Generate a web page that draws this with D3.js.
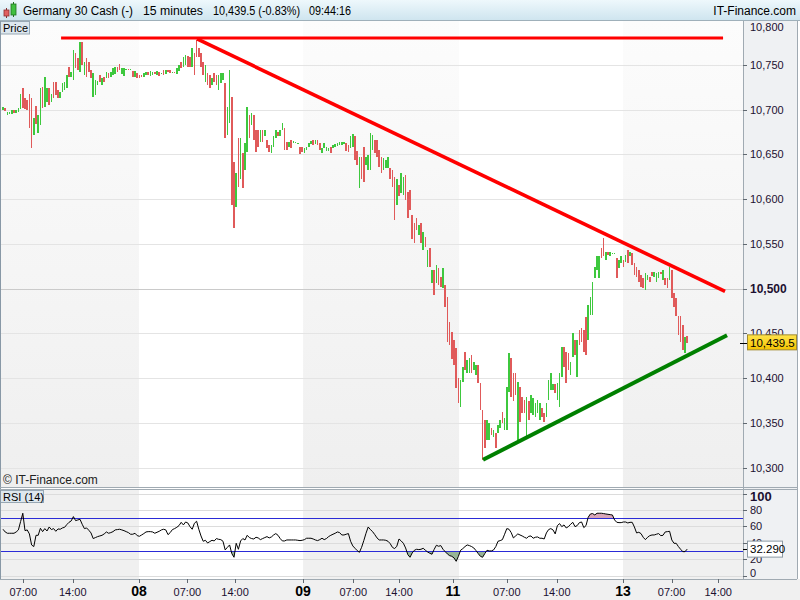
<!DOCTYPE html>
<html><head><meta charset="utf-8">
<script src="https://cdn.jsdelivr.net/npm/d3@7"></script>
<style>
body{margin:0;background:#fff}
svg{display:block}
text{font-family:"Liberation Sans",Arial,sans-serif}
</style>
</head><body><svg id="c" width="800" height="600"></svg>
<script>
// ---------- DATA ----------
const title = "Germany 30 Cash (-)";
const period = "15 minutes";
const lastQuote = "10,439.5 (-0.83%)";
const clock = "09:44:16";
const brand = "IT-Finance.com";

const opens = [
10700,10702,10694,10695,10695,10700,10696,10697,10701,10724,
10713,10711,10718,10713,10672,10704,10674,10683,10725,10703,
10709,10724,10708,10731,10731,10722,10713,10720,10722,10724,
10748,10737,10733,10763,10758,10742,10776,10739,10758,10753,
10744,10714,10716,10728,10739,10728,10737,10735,10741,10737,
10739,10740,10748,10751,10740,10738,10744,10745,10744,10743,
10737,10741,10739,10739,10737,10739,10742,10738,10739,10742,
10739,10742,10740,10744,10740,10744,10744,10741,10742,10740,
10743,10753,10748,10750,10760,10759,10748,10763,10778,10769,
10763,10753,10731,10741,10739,10728,10741,10739,10722,10730,
10733,10730,10672,10685,10714,10642,10591,10668,10622,10652,
10633,10653,10694,10683,10694,10677,10677,10664,10677,10670,
10666,10661,10652,10658,10668,10675,10670,10677,10680,10664,
10658,10666,10663,10664,10662,10658,10658,10652,10655,10658,
10662,10666,10662,10666,10663,10652,10657,10654,10654,10658,
10657,10658,10659,10661,10661,10662,10663,10661,10657,10658,
10670,10654,10613,10647,10658,10638,10633,10633,10655,10666,
10666,10655,10647,10633,10635,10635,10635,10633,10625,10594,
10616,10607,10605,10627,10608,10610,10582,10573,10579,10560,
10573,10543,10558,10524,10546,10506,10521,10506,10523,10513,
10501,10504,10491,10463,10452,10443,10434,10400,10368,10396,
10429,10406,10406,10426,10409,10404,10415,10395,10365,10353,
10331,10331,10344,10334,10339,10339,10344,10362,10342,10342,
10385,10423,10406,10406,10331,10390,10379,10376,10334,10374,
10361,10359,10357,10361,10353,10367,10361,10357,10376,10387,
10387,10393,10376,10368,10401,10435,10429,10428,10404,10424,
10443,10401,10454,10456,10454,10468,10443,10471,10471,10512,
10521,10512,10546,10557,10532,10541,10536,10540,10539,10534,
10523,10529,10532,10530,10543,10536,10540,10529,10524,10521,
10515,10512,10499,10510,10513,10519,10513,10507,10512,10519,
10510,10512,10512,10510,10521,10495,10490,10469,10469,10460,
10428,10447];

const closes = [
10703,10699,10697,10697,10700,10696,10700,10702,10718,10702,
10701,10700,10680,10657,10691,10684,10694,10724,10702,10737,
10724,10705,10718,10713,10716,10713,10720,10730,10731,10739,
10737,10742,10767,10747,10744,10775,10750,10753,10737,10742,
10735,10741,10733,10732,10731,10735,10731,10742,10735,10742,
10747,10748,10742,10744,10747,10747,10745,10744,10745,10737,
10743,10735,10735,10736,10741,10742,10739,10743,10742,10740,
10743,10738,10741,10739,10744,10742,10741,10742,10741,10746,
10750,10747,10759,10761,10748,10748,10769,10739,10759,10759,
10748,10739,10750,10728,10724,10735,10731,10728,10739,10741,
10741,10668,10703,10744,10594,10568,10629,10614,10668,10613,
10663,10703,10668,10696,10666,10653,10658,10677,10664,10677,
10657,10653,10661,10670,10677,10670,10677,10685,10655,10655,
10664,10657,10665,10664,10663,10651,10653,10657,10658,10663,
10665,10661,10666,10661,10655,10657,10663,10658,10657,10652,
10661,10662,10663,10664,10664,10664,10654,10653,10670,10673,
10644,10638,10647,10622,10619,10647,10649,10674,10672,10652,
10647,10636,10629,10646,10644,10647,10622,10614,10577,10622,
10603,10629,10625,10599,10579,10588,10555,10551,10566,10571,
10551,10563,10547,10543,10524,10521,10493,10527,10504,10502,
10523,10479,10440,10437,10421,10415,10389,10372,10398,10412,
10409,10420,10423,10406,10418,10415,10395,10365,10309,10322,
10353,10350,10337,10342,10322,10348,10353,10350,10356,10390,
10428,10379,10374,10381,10396,10351,10361,10361,10379,10353,
10381,10378,10372,10376,10372,10357,10351,10372,10398,10406,
10393,10384,10395,10406,10435,10413,10395,10409,10418,10451,
10426,10443,10437,10440,10429,10426,10482,10491,10508,10524,
10536,10536,10534,10536,10541,10538,10541,10540,10540,10512,
10532,10536,10524,10538,10529,10541,10527,10515,10513,10508,
10502,10501,10518,10515,10508,10514,10519,10518,10519,10516,
10521,10504,10501,10524,10490,10480,10469,10448,10440,10432,
10446,10439.5];

const rsiValues = [
56.6,53.3,51.7,51.7,51.7,51.7,53.3,55.8,66.0,76.2,
54.9,55.8,50.9,37.4,35.4,49.2,49.2,57.8,53.7,57.4,
54.5,59.4,56.2,57.4,54.1,57.0,56.6,58.2,59.0,62.3,
65.1,66.8,72.1,67.2,68.0,68.8,62.7,57.4,58.2,55.4,
52.1,45.2,46.4,47.6,48.4,49.2,50.9,53.3,51.7,52.5,
53.7,55.8,56.2,56.6,55.8,54.9,53.7,52.5,50.5,50.5,
51.7,48.8,48.0,49.6,51.3,53.3,53.7,53.7,53.3,51.7,
52.9,54.1,55.8,56.6,55.8,50.0,52.5,56.2,57.4,59.0,
61.1,65.1,61.9,65.5,64.3,59.8,56.6,63.9,66.4,56.6,
48.4,41.9,43.1,39.8,41.5,43.1,42.3,45.2,44.3,43.9,
41.9,31.3,34.5,37.4,26.8,22.3,39.4,32.1,42.3,45.2,
43.5,49.2,46.4,45.2,44.7,46.8,46.0,43.9,45.2,46.4,
47.6,46.0,47.2,49.6,51.3,49.2,45.2,42.3,42.3,43.5,
43.5,43.5,43.5,43.5,43.1,42.7,43.1,43.9,45.6,45.6,
45.6,44.7,43.5,42.7,43.9,45.6,43.9,45.2,47.6,49.2,
50.5,51.7,53.3,52.5,49.6,49.6,50.5,51.3,41.9,36.2,
33.3,30.5,28.4,34.5,42.7,51.7,59.4,56.2,53.7,50.0,
46.0,43.5,43.5,43.5,43.1,41.9,39.0,34.5,32.9,35.8,
44.7,42.3,39.4,33.7,25.6,22.3,27.6,30.9,32.1,31.7,
32.1,33.3,30.9,28.8,27.2,26.0,32.1,37.0,35.8,36.6,
32.1,29.2,26.4,24.3,23.5,21.5,17.4,23.5,30.9,32.9,
35.4,37.4,36.6,35.4,33.7,30.5,26.8,23.5,22.3,26.8,
30.9,30.1,30.1,31.3,35.4,41.9,42.7,43.9,50.5,57.4,
56.6,52.5,46.0,48.4,50.9,49.6,48.4,46.8,45.6,48.0,
48.4,45.6,46.8,47.2,45.6,45.6,44.7,52.1,56.2,57.4,
55.8,50.9,61.1,63.5,59.8,61.9,58.2,59.8,62.7,65.1,
59.8,61.1,64.7,65.5,58.6,61.1,71.3,75.3,75.8,74.1,
76.2,76.2,76.2,75.8,75.3,74.9,74.5,74.1,68.0,65.1,
64.7,64.7,65.5,65.5,64.3,65.1,65.1,59.4,52.1,52.9,
51.3,46.8,43.9,46.8,48.8,49.6,49.6,50.5,51.3,48.8,
49.2,53.3,53.7,54.1,43.5,39.4,39.4,35.4,32.1,29.2,
29.2,32.29];

const priceTicks = [10300,10350,10400,10450,10500,10550,10600,10650,10700,10750,10800];
const rsiTicks = [0,20,40,60,80,100];
const rsiLevels = [30,70];
const lastPrice = 10439.5;
const lastRsi = 32.29;

// time axis (positions in bar units)
const timeLabels = ["07:00","14:00","07:00","14:00","07:00","14:00","07:00","14:00","07:00","14:00"];
const timePos    = [9.2,31.7,83.8,105.5,159.2,180,229,251.7,303.9,325.1];
const dayLabels  = ["08","09","11","13"];
const dayPos     = [61.8,136.4,204.5,281.8];
// shaded sessions (bar units)
const shadedFrom = [-2,136.4,281.8];
const shadedTo   = [61.8,207.3,340];

// trend lines: [bar1, price1, bar2, price2]
const resistanceFlat = [26.4,10780,327.3,10780];
const resistanceDown = [88.2,10779,328.2,10497];
const supportUp      = [218.2,10309,329.1,10448];

// ---------- CHART ----------
const svg = d3.select("#c");
const W = 800, H = 600;
const plotL = 0, plotR = 743, mainT = 21, mainB = 487, rsiT = 489, rsiB = 579;

const x = d3.scaleLinear().domain([0,336]).range([3,742.2]);
const y = d3.scaleLinear().domain([10278.5,10799]).range([mainB,mainT]);
const ry = d3.scaleLinear().domain([0,100]).range([575.5,493.8]);

const defs = svg.append("defs");
const hg = defs.append("linearGradient").attr("id","hdr").attr("x1",0).attr("y1",0).attr("x2",0).attr("y2",1);
hg.append("stop").attr("offset","0%").attr("stop-color","#eef8fc");
hg.append("stop").attr("offset","100%").attr("stop-color","#cfe5ef");
const sg = defs.append("linearGradient").attr("id","shade").attr("x1",0).attr("y1",0).attr("x2",0).attr("y2",1);
sg.append("stop").attr("offset","0%").attr("stop-color","#fcfcfc");
sg.append("stop").attr("offset","100%").attr("stop-color","#efefef");
const yg = defs.append("linearGradient").attr("id","ybox").attr("x1",0).attr("y1",0).attr("x2",0).attr("y2",1);
yg.append("stop").attr("offset","0%").attr("stop-color","#ffe34a");
yg.append("stop").attr("offset","100%").attr("stop-color","#f5c400");
defs.append("clipPath").attr("id","mainClip").append("rect")
  .attr("x",plotL+1).attr("y",mainT).attr("width",plotR-plotL-1).attr("height",mainB-mainT);
defs.append("clipPath").attr("id","rsiClip").append("rect")
  .attr("x",plotL+1).attr("y",rsiT).attr("width",plotR-plotL-1).attr("height",rsiB-rsiT);
defs.append("clipPath").attr("id","above70").append("rect")
  .attr("x",0).attr("y",rsiT).attr("width",plotR).attr("height",ry(70)-rsiT);
defs.append("clipPath").attr("id","below30").append("rect")
  .attr("x",0).attr("y",ry(30)).attr("width",plotR).attr("height",rsiB-ry(30));

// backgrounds
svg.append("rect").attr("width",W).attr("height",H).attr("fill","#ffffff");
svg.append("rect").attr("x",0).attr("y",rsiB).attr("width",W).attr("height",H-rsiB).attr("fill","#f0f0f0");
svg.append("rect").attr("x",plotR).attr("y",mainT).attr("width",797-plotR).attr("height",rsiB-mainT).attr("fill","#eff1f3");

// header
svg.append("rect").attr("x",0).attr("y",0).attr("width",W).attr("height",20).attr("fill","url(#hdr)");
svg.append("line").attr("x1",0).attr("x2",W).attr("y1",20.5).attr("y2",20.5).attr("stroke","#9fb0ba");
// icon
const icon = svg.append("g");
icon.append("line").attr("x1",6.5).attr("x2",6.5).attr("y1",8).attr("y2",18).attr("stroke","#803030");
icon.append("rect").attr("x",4).attr("y",10).attr("width",5).attr("height",6).attr("fill","#e06060").attr("stroke","#903030").attr("stroke-width",0.8);
icon.append("line").attr("x1",13.5).attr("x2",13.5).attr("y1",2).attr("y2",17).attr("stroke","#207020");
icon.append("rect").attr("x",11).attr("y",4).attr("width",5).attr("height",11).attr("fill","#40c040").attr("stroke","#207020").attr("stroke-width",0.8);
// [text, x, width]
const htxt = [[title,23,110],[period,143,60],[lastQuote,213,87],[clock,309,42]];
svg.selectAll("text.h").data(htxt).enter().append("text").attr("class","h")
  .attr("x",d=>d[1]).attr("y",15).attr("font-size",12).attr("fill","#000")
  .attr("textLength",d=>d[2]).attr("lengthAdjust","spacingAndGlyphs").text(d=>d[0]);
svg.append("text").attr("x",796).attr("y",15).attr("text-anchor","end").attr("font-size",12).attr("fill","#000").text(brand);

// shaded sessions
const bands = shadedFrom.map((f,i)=>[f,shadedTo[i]]);
svg.append("g").selectAll("rect").data(bands).enter().append("rect")
  .attr("x",d=>Math.max(plotL,x(d[0]))).attr("y",mainT)
  .attr("width",d=>Math.min(plotR,x(d[1]))-Math.max(plotL,x(d[0]))).attr("height",mainB-mainT)
  .attr("fill","url(#shade)");
svg.append("g").selectAll("rect").data(bands).enter().append("rect")
  .attr("x",d=>Math.max(plotL,x(d[0]))).attr("y",rsiT)
  .attr("width",d=>Math.min(plotR,x(d[1]))-Math.max(plotL,x(d[0]))).attr("height",rsiB-rsiT)
  .attr("fill","#f0f0f0");

// price grid
svg.append("g").selectAll("line").data(priceTicks.filter(p=>p<10800)).enter().append("line")
  .attr("x1",plotL).attr("x2",plotR).attr("y1",d=>Math.round(y(d))+0.5).attr("y2",d=>Math.round(y(d))+0.5)
  .attr("stroke",d=>d===10500?"#cacaca":"#e4e4e4");

// candles
const bars = opens.map((o,i)=>({i,o,c:closes[i]}));
const gC = svg.append("g").attr("clip-path","url(#mainClip)").attr("shape-rendering","crispEdges");
gC.selectAll("rect").data(bars).enter().append("rect")
  .attr("x",d=>x(d.i)-0.75).attr("width",1.6)
  .attr("y",d=>y(Math.max(d.o,d.c)))
  .attr("height",d=>Math.max(1,Math.abs(y(d.o)-y(d.c))))
  .attr("fill",d=>d.c>=d.o?"#3ec83e":"#e05a5a");

// trend lines
const gT = svg.append("g").attr("clip-path","url(#mainClip)");
function tline(t,color,w){
  gT.append("line").attr("x1",x(t[0])).attr("y1",y(t[1])).attr("x2",x(t[2])).attr("y2",y(t[3]))
    .attr("stroke",color).attr("stroke-width",w);
}
tline(resistanceFlat,"#ff0000",3.2);
tline(resistanceDown,"#ff0000",3.6);
tline(supportUp,"#008000",4);

// main panel texts
svg.append("rect").attr("x",0.5).attr("y",21.5).attr("width",29).attr("height",12.5).attr("fill","#dde7ee").attr("stroke","#98a8b4");
svg.append("text").attr("x",3).attr("y",32).attr("font-size",11).attr("fill","#000").text("Price");
svg.append("text").attr("x",3).attr("y",484).attr("font-size",12).attr("fill","#222").text("© IT-Finance.com");

// RSI panel
const gR = svg.append("g").attr("clip-path","url(#rsiClip)");
gR.selectAll("line.g").data(rsiTicks).enter().append("line").attr("class","g")
  .attr("x1",plotL).attr("x2",plotR).attr("y1",d=>Math.round(ry(d))+0.5).attr("y2",d=>Math.round(ry(d))+0.5)
  .attr("stroke","#dcdcdc");
const rpts = rsiValues.map((v,i)=>({i,v}));
gR.append("path").datum(rpts).attr("clip-path","url(#above70)")
  .attr("d",d3.area().x(d=>x(d.i)).y0(ry(70)).y1(d=>ry(d.v))).attr("fill","#d8a6b8");
gR.append("path").datum(rpts).attr("clip-path","url(#below30)")
  .attr("d",d3.area().x(d=>x(d.i)).y0(ry(30)).y1(d=>ry(d.v))).attr("fill","#97b497");
gR.selectAll("line.l").data(rsiLevels).enter().append("line").attr("class","l")
  .attr("x1",plotL).attr("x2",plotR).attr("y1",d=>Math.round(ry(d))+0.5).attr("y2",d=>Math.round(ry(d))+0.5)
  .attr("stroke","#2b2bd6");
gR.append("path").datum(rpts)
  .attr("d",d3.line().x(d=>x(d.i)).y(d=>ry(d.v))).attr("fill","none").attr("stroke","#000").attr("stroke-width",1);
svg.append("rect").attr("x",0.5).attr("y",490.5).attr("width",43).attr("height",12).attr("fill","#dde7ee").attr("stroke","#98a8b4");
svg.append("text").attr("x",3).attr("y",500.5).attr("font-size",11).attr("fill","#000").text("RSI (14)");

// frames
const frame = svg.append("g").attr("stroke","#a0aab2").attr("fill","none").attr("shape-rendering","crispEdges");
frame.append("line").attr("x1",0.5).attr("x2",0.5).attr("y1",mainT).attr("y2",rsiB).attr("stroke","#8898a6");
frame.append("line").attr("x1",0).attr("x2",797).attr("y1",mainB+0.5).attr("y2",mainB+0.5);
frame.append("line").attr("x1",0).attr("x2",797).attr("y1",rsiT+0.5).attr("y2",rsiT+0.5);
frame.append("line").attr("x1",0).attr("x2",797).attr("y1",rsiB+0.5).attr("y2",rsiB+0.5);
frame.append("line").attr("x1",plotR+0.5).attr("x2",plotR+0.5).attr("y1",mainT).attr("y2",rsiB);
frame.append("line").attr("x1",797.5).attr("x2",797.5).attr("y1",mainT).attr("y2",rsiB);

// price axis (10,450 sits behind the last-price box, as in the original)
const gP = svg.append("g");
gP.selectAll("line").data(priceTicks.filter(p=>p<10800)).enter().append("line")
  .attr("x1",plotR).attr("x2",plotR+4).attr("y1",d=>Math.round(y(d))+0.5).attr("y2",d=>Math.round(y(d))+0.5)
  .attr("stroke","#606870");
gP.selectAll("text").data(priceTicks).enter().append("text")
  .attr("x",750).attr("y",d=>Math.max(y(d),27)+4)
  .attr("font-size",d=>d===10500?12:11).attr("font-weight",d=>d===10500?"bold":"normal")
  .attr("fill","#1c1030").text(d=>d3.format(",")(d));
// last price box
const lpY = y(lastPrice);
svg.append("line").attr("x1",plotR-3).attr("x2",plotR+4).attr("y1",Math.round(lpY)+0.5).attr("y2",Math.round(lpY)+0.5).attr("stroke","#000");
svg.append("rect").attr("x",747.5).attr("y",lpY-8).attr("width",49).attr("height",15).attr("fill","url(#ybox)").attr("stroke","#a08a30");
svg.append("text").attr("x",750).attr("y",lpY+4).attr("font-size",11.5).attr("fill","#000").text(d3.format(",.1f")(lastPrice));

// rsi axis
const gA = svg.append("g");
gA.selectAll("line").data(rsiTicks).enter().append("line")
  .attr("x1",plotR).attr("x2",plotR+4).attr("y1",d=>Math.round(ry(d))+0.5).attr("y2",d=>Math.round(ry(d))+0.5)
  .attr("stroke","#606870");
gA.selectAll("text").data(rsiTicks).enter().append("text")
  .attr("x",750).attr("y",d=>Math.min(Math.max(ry(d),497),573)+4)
  .attr("font-size",d=>d===100?13:11).attr("font-weight",d=>d===100?"bold":"normal")
  .attr("fill","#1c1030").text(d=>d);
const lrY = ry(lastRsi);
svg.append("line").attr("x1",plotR).attr("x2",plotR+4).attr("y1",Math.round(lrY)+0.5).attr("y2",Math.round(lrY)+0.5).attr("stroke","#000");
svg.append("rect").attr("x",747.5).attr("y",lrY-8).attr("width",35).attr("height",16).attr("fill","#fff").attr("stroke","#8c9aa4");
svg.append("text").attr("x",750).attr("y",lrY+4).attr("font-size",11.5).attr("fill","#000").text(d3.format(".3f")(lastRsi));

// time axis
const gX = svg.append("g");
gX.selectAll("line.t").data(timePos.concat(dayPos)).enter().append("line").attr("class","t")
  .attr("x1",d=>Math.round(x(d))+0.5).attr("x2",d=>Math.round(x(d))+0.5).attr("y1",rsiB).attr("y2",rsiB+4)
  .attr("stroke","#606870");
gX.selectAll("text.t").data(timeLabels).enter().append("text").attr("class","t")
  .attr("x",(d,i)=>x(timePos[i])).attr("y",595.5).attr("text-anchor","middle")
  .attr("font-size",11).attr("fill","#1c1030").text(d=>d);
gX.selectAll("text.d").data(dayLabels).enter().append("text").attr("class","d")
  .attr("x",(d,i)=>x(dayPos[i])).attr("y",596).attr("text-anchor","middle")
  .attr("font-size",14).attr("font-weight","bold").attr("font-family","'Liberation Serif','Times New Roman',serif")
  .attr("fill","#000").text(d=>d);
</script>
</body></html>
